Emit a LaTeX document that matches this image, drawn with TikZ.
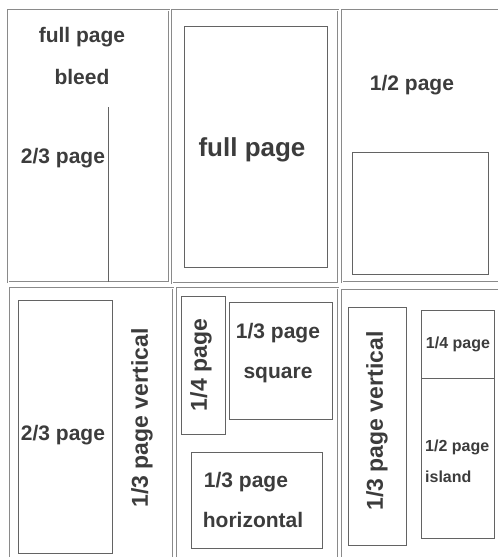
\documentclass[tikz,border=0pt]{standalone}
\usepackage{fontspec}
\setmainfont{Liberation Sans}
\definecolor{ink}{HTML}{3C3C3C}
\definecolor{frame}{HTML}{8A8A8A}
\begin{document}
\begin{tikzpicture}[x=1pt,y=-1pt,
	panel/.style={draw=frame,line width=0.6pt,double=white,double distance=0.9pt},
	box/.style={draw=ink!80,line width=0.9pt},
	lbl/.style={text=ink,font=\bfseries\fontsize{21}{21}\selectfont,inner sep=0pt},
	lblsmall/.style={lbl,font=\bfseries\fontsize{16}{16}\selectfont}]
	\useasboundingbox (0,0) rectangle (498,557);
	\clip (0,0) rectangle (498,557);
	% top row
	\draw[panel] (8,10) rectangle (169,282) (172,10) rectangle (338,283) (342,10) rectangle (504,282);
	\draw[box] (108,107)--(108,282);
	\draw[box] (184,26) rectangle (327,267) (352,152) rectangle (488,274);
	\node[lbl] (fpb) at (82,37) {full page};
	\node[lbl] (bleed) at (82,77) {bleed};
	\node[lbl] (twothirds) at (63,158) {2/3 page};
	\node[lbl,font=\bfseries\fontsize{26}{26}\selectfont] (fullpage) at (252,150) {full page};
	\node[lbl] (half) at (412,85) {1/2 page};
	% bottom row
	\draw[panel] (10,288) rectangle (173,565) (177,288) rectangle (338,565) (342,290) rectangle (504,565);
	\draw[box] (18,300) rectangle (112,553);
	\node[lbl] (twothirdsb) at (63,435) {2/3 page};
	\node[lbl,font=\bfseries\fontsize{23}{23}\selectfont,rotate=90] (thirdvert) at (142,418) {1/3 page vertical};
	\draw[box] (181,296) rectangle (225,434) (229,302) rectangle (332,419) (191,452) rectangle (322,548);
	\node[lbl,font=\bfseries\fontsize{23}{23}\selectfont,rotate=90] (quarter) at (201,365) {1/4 page};
	\node[lbl] (thirdsq) at (278,333) {1/3 page};
	\node[lbl] (square) at (278,375) {square};
	\node[lbl] (thirdhor) at (246,482) {1/3 page};
	\node[lbl] (horiz) at (253,520) {horizontal};
	\draw[box] (348,307) rectangle (406,545) (421,310) rectangle (494,378) (421,378) rectangle (494,538);
	\node[lbl,font=\bfseries\fontsize{23}{23}\selectfont,rotate=90] (thirdvertb) at (377,421) {1/3 page vertical};
	\node[lblsmall] (quarterb) at (458,344) {1/4 page};
	\node[lblsmall,anchor=west] (halfisl) at (425,447) {1/2 page};
	\node[lblsmall,anchor=west] (island) at (425,477) {island};
\end{tikzpicture}
\end{document}
